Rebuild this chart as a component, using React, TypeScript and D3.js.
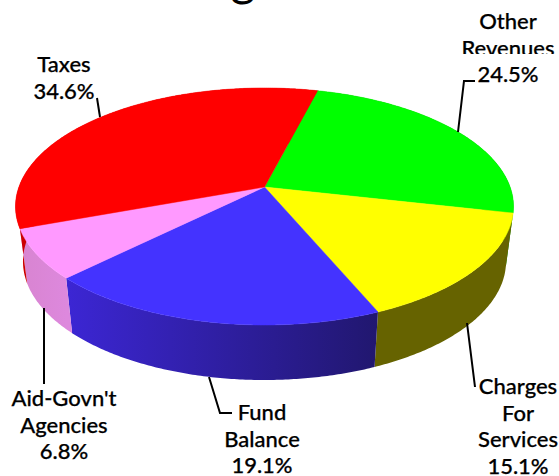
import React from "react";
import * as d3 from "d3";

const categories = ["Other Revenues", "Charges For Services", "Fund Balance", "Aid-Govn't Agencies", "Taxes"];
const shares = [24.5, 15.1, 19.1, 6.8, 34.6];
const topColors = ["#00ff00", "#ffff00", "#4433ff", "#ff99ff", "#ff0000"];
const sideStart = ["#009900", "#666300", "#3c26d4", "#dd88dd", "#cc0000"];
const sideEnd = ["#009900", "#666300", "#21176f", "#d884d0", "#cc0000"];

type Lab = { lines: string[]; x: number; y: number };
const labels: Lab[] = [
  { lines: ["Other", "Revenues"], x: 508, y: 29 },
  { lines: ["Charges", "For", "Services", "15.1%"], x: 518, y: 394 },
  { lines: ["Fund", "Balance", "19.1%"], x: 262, y: 420 },
  { lines: ["Aid-Govn't", "Agencies", "6.8%"], x: 64, y: 406 },
  { lines: ["Taxes", "34.6%"], x: 64, y: 72 },
];
const leaders: [number, number][][] = [
  [[475, 81], [464, 81], [458, 132]],
  [[475, 387], [467, 323]],
  [[232, 413], [220, 413], [209, 377]],
  [[44, 384], [44, 308]],
  [[97, 98], [100, 117]],
];

const W = 559, H = 476;
const cx = 264.5, cy = 187, k = 115.3, d = 6.08, R = 245.6, depth = 55, shrink = 0.97;
const line = d3.line<[number, number]>();

function proj(a: number, bottom = false): [number, number] {
  const u = Math.sin(a), v = -Math.cos(a);
  const s = d / (d - v);
  return bottom
    ? [cx + R * u * s * shrink, cy + k * v * s + depth]
    : [cx + R * u * s, cy + k * v * s];
}
function arcPts(a0: number, a1: number, bottom = false) {
  const n = Math.max(2, Math.ceil(Math.abs(a1 - a0) / 0.01));
  return d3.range(n + 1).map((i) => proj(a0 + ((a1 - a0) * i) / n, bottom));
}

const start = (14.5 * Math.PI) / 180;
const pieGen = d3.pie<number>().sort(null).startAngle(start).endAngle(start + 2 * Math.PI);
const arcs = pieGen(shares);

export default function App() {
  return (
    <svg width={W} height={H} style={{ position: "absolute", left: 0, top: 0, background: "#fff" }}
      fontFamily="Lato" fill="#000">
      <defs>
        {arcs.map((a, i) => {
          const xs = arcPts(a.startAngle, a.endAngle).map((p) => p[0]);
          return (
            <linearGradient key={i} id={`g${i}`} gradientUnits="userSpaceOnUse"
              x1={d3.min(xs)} x2={d3.max(xs)} y1={0} y2={0}>
              <stop offset="0" stopColor={i === 2 ? sideStart[i] : sideEnd[i]} />
              <stop offset="1" stopColor={i === 2 ? sideEnd[i] : sideStart[i]} />
            </linearGradient>
          );
        })}
      </defs>
      <text x={243} y={-4} fontSize={48} textAnchor="middle">g</text>
      {arcs.map((a, i) => {
        const pts = [...arcPts(a.startAngle, a.endAngle), ...arcPts(a.endAngle, a.startAngle, true)];
        return <path key={i} d={line(pts) + "Z"} fill={`url(#g${i})`} />;
      })}
      {arcs.map((a, i) => {
        const pts: [number, number][] = [[cx, cy], ...arcPts(a.startAngle, a.endAngle)];
        return <path key={i} d={line(pts) + "Z"} fill={topColors[i]} stroke={topColors[i]} strokeWidth={0.5} />;
      })}
      {leaders.map((l, i) => (
        <path key={i} d={line(l) ?? ""} fill="none" stroke="#000" strokeWidth={2} />
      ))}
      {labels.map((l, i) => (
        <text key={i} x={l.x} y={l.y} fontSize={22} fontWeight={500} textAnchor="middle" stroke="#000" strokeWidth={0.25}>
          {l.lines.map((s, j) => (
            <tspan key={j} x={l.x} dy={j === 0 ? 0 : 26.5}>{s}</tspan>
          ))}
        </text>
      ))}
      <rect x={478} y={54} width={60} height={30} fill="#fff" />
      <rect x={462} y={54} width={92} height={5} fill="#fff" />
      <text x={508} y={82} fontSize={22} fontWeight={500} textAnchor="middle" stroke="#000" strokeWidth={0.25}>24.5%</text>
    </svg>
  );
}
